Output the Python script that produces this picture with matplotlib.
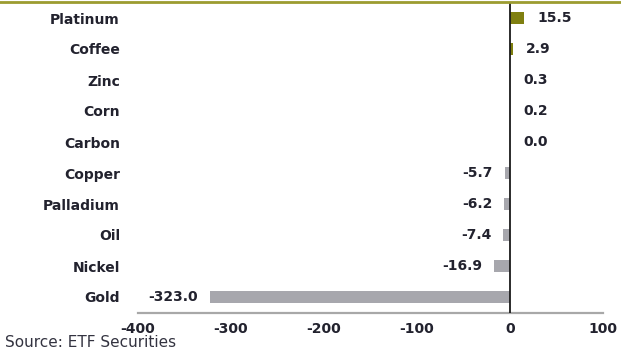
import matplotlib
matplotlib.use("Agg")
import matplotlib.pyplot as plt

categories = ["Platinum", "Coffee", "Zinc", "Corn", "Carbon",
              "Copper", "Palladium", "Oil", "Nickel", "Gold"]
values = [15.5, 2.9, 0.3, 0.2, 0.0, -5.7, -6.2, -7.4, -16.9, -323.0]
xticks = [-400, -300, -200, -100, 0, 100]

POS_COLOR = "#7f7f10"
NEG_COLOR = "#a7a7ad"
TEXT_COLOR = "#22222e"
FS = 10

plt.rcParams["font.family"] = ["DejaVu Sans"]

fig = plt.figure(figsize=(6.21, 3.51), dpi=100)
ax = fig.add_axes([138 / 621, 1 - 312.5 / 351, 465 / 621, 310 / 351])

ypos = list(range(len(categories)))
colors = [POS_COLOR if v > 0 else NEG_COLOR for v in values]
ax.barh(ypos, values, height=0.4, color=colors, zorder=2)

for y, v in zip(ypos, values):
    if v >= 0:
        ax.annotate(f"{v:.1f}", xy=(v, y), xytext=(9.4, 0),
                    textcoords="offset points", ha="left", va="center",
                    fontsize=FS, fontweight="bold", color=TEXT_COLOR)
    else:
        ax.annotate(f"{v:.1f}", xy=(v, y), xytext=(-8.5, 0),
                    textcoords="offset points", ha="right", va="center",
                    fontsize=FS, fontweight="bold", color=TEXT_COLOR)

ax.set_xlim(-400, 100)
ax.set_ylim(len(categories) - 0.5, -0.5)
ax.set_yticks(ypos)
ax.set_yticklabels(categories)
ax.set_xticks(xticks)
ax.set_xticklabels([str(t) for t in xticks])

ax.axvline(0, color="#1a1a1a", linewidth=1.3, zorder=3)

for side in ("top", "right", "left"):
    ax.spines[side].set_visible(False)
ax.spines["bottom"].set_color("#a8a8a8")
ax.spines["bottom"].set_linewidth(1.6)

ax.tick_params(axis="y", length=0, pad=13, labelsize=FS, labelcolor=TEXT_COLOR)
ax.tick_params(axis="x", length=0, pad=6.5, labelsize=FS, labelcolor=TEXT_COLOR)
for lbl in ax.get_xticklabels() + ax.get_yticklabels():
    lbl.set_fontweight("bold")

# olive rule along the top edge
fig.add_artist(plt.Line2D([0, 1], [1 - 1.5 / 351, 1 - 1.5 / 351],
                          transform=fig.transFigure, color="#9c9c30", linewidth=2))

fig.text(5 / 621, 1 - 342.5 / 351, "Source: ETF Securities", ha="left", va="center",
         fontsize=11, color="#333340")

fig.savefig("out.png", dpi=100)
